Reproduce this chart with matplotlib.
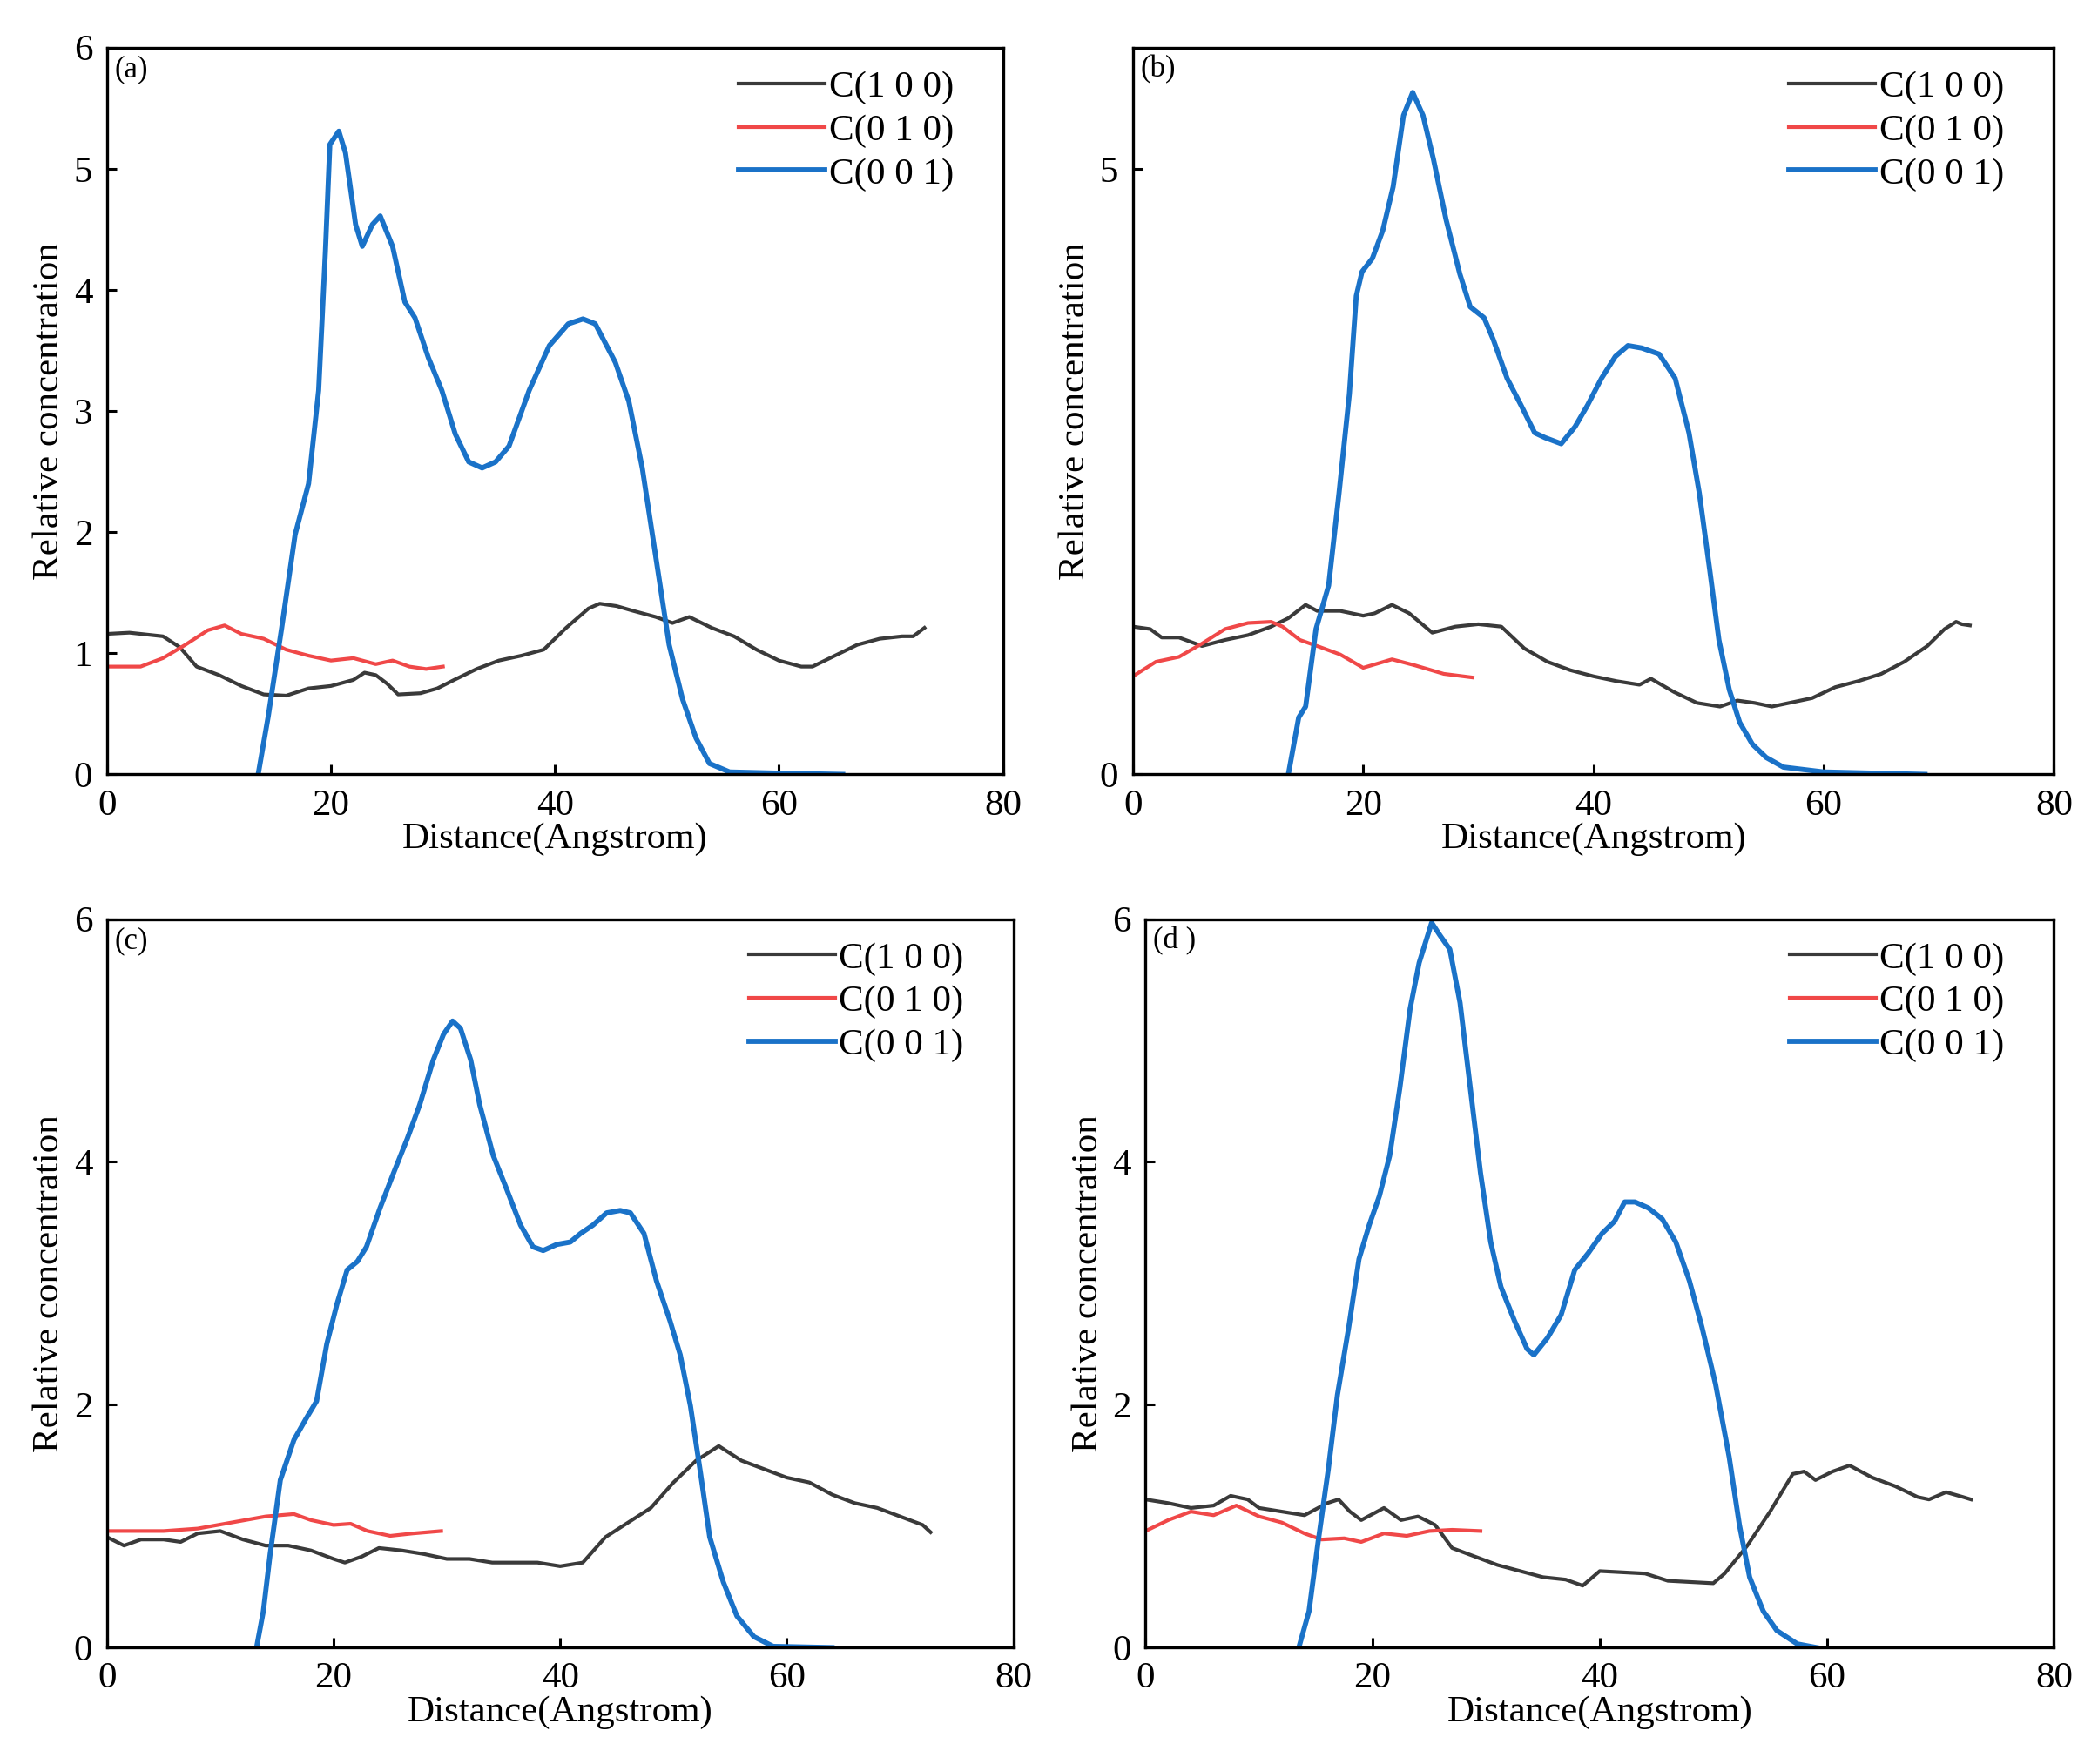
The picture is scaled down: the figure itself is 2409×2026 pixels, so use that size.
import matplotlib
matplotlib.use('Agg')
import matplotlib.pyplot as plt

plt.rcParams['font.family'] = ['Liberation Serif', 'DejaVu Serif']

# ---- panel (a) ----
a_blue_x = [13.5, 14.4, 15.6, 16.8, 18.0, 18.9, 19.5, 19.9, 20.7, 21.3, 22.2, 22.8, 23.7, 24.4, 25.5, 26.6,
            27.5, 28.7, 29.9, 31.1, 32.3, 33.5, 34.7, 35.9, 37.7, 39.5, 41.2, 42.5, 43.6, 45.4, 46.6, 47.8,
            49.0, 50.2, 51.4, 52.6, 53.8, 55.6, 60.0, 65.7]
a_blue_y = [0.0, 0.48, 1.21, 1.98, 2.4, 3.17, 4.31, 5.2, 5.31, 5.13, 4.54, 4.36, 4.54, 4.61, 4.36, 3.9,
            3.77, 3.44, 3.17, 2.81, 2.58, 2.53, 2.58, 2.71, 3.17, 3.54, 3.72, 3.76, 3.72, 3.40, 3.08, 2.53,
            1.80, 1.07, 0.62, 0.30, 0.09, 0.02, 0.01, 0.0]
a_black_x = [0, 2, 5, 6.5, 8, 10, 12, 14, 16, 18, 20, 22, 23, 24, 25, 26, 28, 29.5, 31, 33, 35, 37, 39,
             41, 43, 44, 45.5, 47, 49, 50.5, 52, 54, 56, 58, 60, 62, 63, 65, 67, 69, 71, 72, 73]
a_black_y = [1.16, 1.17, 1.14, 1.05, 0.89, 0.82, 0.73, 0.66, 0.65, 0.71, 0.73, 0.78, 0.84, 0.82, 0.75,
             0.66, 0.67, 0.71, 0.78, 0.87, 0.94, 0.98, 1.03, 1.21, 1.37, 1.41, 1.39, 1.35, 1.30, 1.25,
             1.30, 1.21, 1.14, 1.03, 0.94, 0.89, 0.89, 0.98, 1.07, 1.12, 1.14, 1.14, 1.21]
a_red_x = [0, 3, 5, 7, 9, 10.5, 12, 14, 16, 18, 20, 22, 24, 25.5, 27, 28.5, 30]
a_red_y = [0.89, 0.89, 0.96, 1.07, 1.19, 1.23, 1.16, 1.12, 1.03, 0.98, 0.94, 0.96, 0.91, 0.94, 0.89, 0.87, 0.89]

# ---- panel (b) ----
b_blue_x = [13.5, 14.4, 15.0, 15.9, 17.0, 17.9, 18.8, 19.4, 19.9, 20.8, 21.7, 22.6, 23.5, 24.3, 25.2,
            26.1, 27.2, 28.4, 29.3, 30.5, 31.3, 32.5, 33.7, 34.9, 35.8, 37.2, 38.4, 39.5, 40.7, 41.9,
            43.0, 44.2, 45.7, 47.1, 48.3, 49.2, 50.1, 50.9, 51.8, 52.7, 53.8, 55.0, 56.5, 60.0, 68.8]
b_blue_y = [0.0, 0.47, 0.56, 1.20, 1.56, 2.32, 3.14, 3.95, 4.15, 4.26, 4.49, 4.85, 5.44, 5.63, 5.44,
            5.08, 4.58, 4.13, 3.86, 3.77, 3.59, 3.27, 3.05, 2.82, 2.78, 2.73, 2.87, 3.05, 3.27, 3.45,
            3.54, 3.52, 3.47, 3.27, 2.82, 2.32, 1.69, 1.11, 0.70, 0.43, 0.25, 0.14, 0.06, 0.02, 0.0]
b_black_x = [0, 1.5, 2.5, 4, 6, 8, 10, 12, 13.5, 15, 16, 18, 20, 21, 22.5, 24, 26, 28, 30, 32, 34, 36,
             38, 40, 42, 44, 45, 47, 49, 51, 52.5, 54, 55.5, 57, 59, 61, 63, 65, 67, 69, 70.5, 71.5,
             72, 72.7]
b_black_y = [1.22, 1.20, 1.13, 1.13, 1.06, 1.11, 1.15, 1.22, 1.29, 1.40, 1.35, 1.35, 1.31, 1.33, 1.40,
             1.33, 1.17, 1.22, 1.24, 1.22, 1.04, 0.93, 0.86, 0.81, 0.77, 0.74, 0.79, 0.68, 0.59, 0.56,
             0.61, 0.59, 0.56, 0.59, 0.63, 0.72, 0.77, 0.83, 0.93, 1.06, 1.20, 1.26, 1.24, 1.23]
b_red_x = [0, 2, 4, 6, 8, 10, 12, 13, 14.5, 16, 18, 20, 22.5, 24.5, 27, 29.5]
b_red_y = [0.81, 0.93, 0.97, 1.08, 1.20, 1.25, 1.26, 1.22, 1.11, 1.06, 0.99, 0.88, 0.95, 0.90, 0.83, 0.80]

# ---- panel (c) ----
c_blue_x = [13.2, 13.8, 14.4, 15.3, 16.5, 17.6, 18.5, 19.4, 20.3, 21.2, 22.1, 22.9, 24.1, 25.3, 26.5,
            27.6, 28.8, 29.7, 30.5, 31.2, 32.1, 32.9, 34.1, 35.3, 36.5, 37.6, 38.5, 39.7, 40.9, 41.8,
            42.9, 44.1, 45.3, 46.2, 47.4, 48.5, 49.7, 50.6, 51.5, 52.4, 53.2, 54.4, 55.6, 57.1, 58.8, 64.0]
c_blue_y = [0.0, 0.30, 0.77, 1.38, 1.71, 1.89, 2.03, 2.50, 2.83, 3.11, 3.18, 3.30, 3.62, 3.91, 4.19,
            4.47, 4.84, 5.05, 5.16, 5.10, 4.84, 4.47, 4.05, 3.77, 3.48, 3.30, 3.27, 3.32, 3.34, 3.41,
            3.48, 3.58, 3.60, 3.58, 3.41, 3.02, 2.69, 2.41, 1.99, 1.43, 0.91, 0.54, 0.26, 0.09, 0.01, 0.0]
c_black_x = [0, 1.5, 3, 5, 6.5, 8, 10, 12, 14, 16, 18, 20, 21, 22.5, 24, 26, 28, 30, 32, 34, 36, 38,
             40, 42, 44, 46, 48, 50, 52, 54, 56, 58, 60, 62, 64, 66, 68, 70, 72, 72.7]
c_black_y = [0.91, 0.84, 0.89, 0.89, 0.87, 0.94, 0.96, 0.89, 0.84, 0.84, 0.80, 0.73, 0.70, 0.75, 0.82,
             0.80, 0.77, 0.73, 0.73, 0.70, 0.70, 0.70, 0.67, 0.70, 0.91, 1.03, 1.15, 1.36, 1.54, 1.66,
             1.54, 1.47, 1.40, 1.36, 1.26, 1.19, 1.15, 1.08, 1.01, 0.95]
c_red_x = [0, 5, 8, 11, 14, 16.5, 18, 20, 21.5, 23, 25, 27, 29.5]
c_red_y = [0.96, 0.96, 0.98, 1.03, 1.08, 1.10, 1.05, 1.01, 1.02, 0.96, 0.92, 0.94, 0.96]

# ---- panel (d) ----
d_blue_x = [13.5, 14.4, 15.2, 16.1, 16.9, 17.9, 18.8, 19.7, 20.6, 21.5, 22.4, 23.3, 24.1, 25.2, 25.9,
            26.8, 27.7, 28.6, 29.5, 30.4, 31.3, 32.5, 33.6, 34.2, 35.4, 36.6, 37.8, 39.0, 40.2, 41.3,
            42.2, 43.1, 44.3, 45.5, 46.7, 47.9, 49.0, 50.2, 51.4, 52.3, 53.2, 54.4, 55.6, 57.4, 59.1]
d_blue_y = [0.0, 0.30, 0.87, 1.47, 2.08, 2.64, 3.20, 3.48, 3.72, 4.05, 4.61, 5.26, 5.64, 5.97, 5.87,
            5.75, 5.31, 4.61, 3.91, 3.34, 2.97, 2.69, 2.46, 2.41, 2.55, 2.74, 3.11, 3.25, 3.41, 3.51,
            3.67, 3.67, 3.62, 3.53, 3.34, 3.02, 2.64, 2.17, 1.57, 1.01, 0.58, 0.30, 0.14, 0.03, 0.0]
d_black_x = [0, 2, 4, 6, 7.5, 9, 10, 12, 14, 16, 17, 18, 19, 21, 22.5, 24, 25.5, 27, 29, 31, 33, 35,
             37, 38.5, 40, 42, 44, 46, 48, 50, 51, 53, 55, 57, 58, 59, 60.5, 62, 64, 66, 68, 69, 70.5,
             72, 72.7]
d_black_y = [1.22, 1.19, 1.15, 1.17, 1.25, 1.22, 1.15, 1.12, 1.09, 1.19, 1.22, 1.12, 1.05, 1.15, 1.05,
             1.08, 1.01, 0.82, 0.75, 0.68, 0.63, 0.58, 0.56, 0.51, 0.63, 0.62, 0.61, 0.55, 0.54, 0.53,
             0.61, 0.84, 1.12, 1.43, 1.45, 1.38, 1.45, 1.50, 1.40, 1.33, 1.24, 1.22, 1.28, 1.24, 1.22]
d_red_x = [0, 2, 4, 6, 8, 10, 12, 14, 15.5, 17.5, 19, 21, 23, 25, 27, 29.5]
d_red_y = [0.96, 1.05, 1.12, 1.09, 1.17, 1.08, 1.03, 0.94, 0.89, 0.90, 0.87, 0.94, 0.92, 0.96, 0.97, 0.96]

panels = [
    ('(a)', [0.051, 0.561, 0.427, 0.412], [0, 1, 2, 3, 4, 5, 6],
     a_black_x, a_black_y, a_red_x, a_red_y, a_blue_x, a_blue_y),
    ('(b)', [0.540, 0.561, 0.439, 0.412], [0, 5],
     b_black_x, b_black_y, b_red_x, b_red_y, b_blue_x, b_blue_y),
    ('(c)', [0.051, 0.066, 0.432, 0.413], [0, 2, 4, 6],
     c_black_x, c_black_y, c_red_x, c_red_y, c_blue_x, c_blue_y),
    ('(d )', [0.546, 0.066, 0.433, 0.413], [0, 2, 4, 6],
     d_black_x, d_black_y, d_red_x, d_red_y, d_blue_x, d_blue_y),
]

fig = plt.figure(figsize=(24.09, 20.26), dpi=100)

for tag, rect, yt, kx, ky, rx, ry, bx, by in panels:
    ax = fig.add_axes(rect)
    ax.plot(kx, ky, color='#3a3a3a', lw=3.0, label='C(1 0 0)')
    ax.plot(rx, ry, color='#f04848', lw=3.0, label='C(0 1 0)')
    ax.plot(bx, by, color='#1a72c8', lw=4.2, label='C(0 0 1)')
    ax.set_xlim(0, 80)
    ax.set_ylim(0, 6)
    ax.set_xticks([0, 20, 40, 60, 80])
    ax.set_yticks(yt)
    ax.tick_params(direction='in', length=8, width=2.2, labelsize=31, top=False, right=False, pad=12)
    for s in ax.spines.values():
        s.set_linewidth(2.4)
    ax.set_xlabel('Distance(Angstrom)', fontsize=31, labelpad=0)
    ax.set_ylabel('Relative concentration', fontsize=31, labelpad=6)
    ax.text(0.008, 0.99, tag, transform=ax.transAxes, fontsize=25, va='top', ha='left')
    ax.legend(loc='upper right', frameon=False, fontsize=31, handlelength=2.3,
              handletextpad=0.1, labelspacing=0.25, borderaxespad=0.2, bbox_to_anchor=(0.97, 1.0))

fig.savefig('out.png', dpi=100, facecolor='white')
